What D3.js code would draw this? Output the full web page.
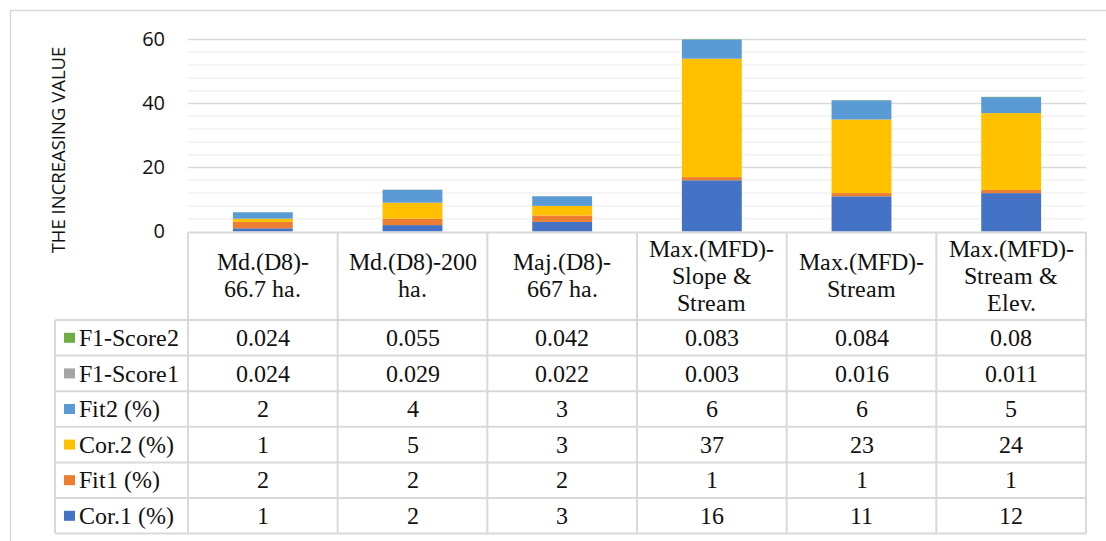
<!DOCTYPE html>
<html>
<head>
<meta charset="utf-8">
<script src="https://cdn.jsdelivr.net/npm/d3@7/dist/d3.min.js"></script>
<style>
  @font-face { font-family: "TableSerif"; src: local("Liberation Serif"), local("LiberationSerif"), local("Liberation Serif Regular"), local("Tinos"); }
  html, body { margin: 0; padding: 0; background: #fff; }
  svg { display: block; }
  .tserif { font-family: "TableSerif", "Liberation Serif", serif; }
</style>
</head>
<body>
<svg id="viz" width="1106" height="541"></svg>
<script>
// Category headers (one entry per line of the wrapped label)
const categoryLines = [
  ["Md.(D8)-", "66.7 ha."],
  ["Md.(D8)-200", "ha."],
  ["Maj.(D8)-", "667 ha."],
  ["Max.(MFD)-", "Slope &", "Stream"],
  ["Max.(MFD)-", "Stream"],
  ["Max.(MFD)-", "Stream &", "Elev."]
];

// Series values, per category
const cor1     = [1, 2, 3, 16, 11, 12];
const fit1     = [2, 2, 2, 1, 1, 1];
const cor2     = [1, 5, 3, 37, 23, 24];
const fit2     = [2, 4, 3, 6, 6, 5];
const f1Score1 = [0.024, 0.029, 0.022, 0.003, 0.016, 0.011];
const f1Score2 = [0.024, 0.055, 0.042, 0.083, 0.084, 0.08];

const seriesNames  = ["Cor.1 (%)", "Fit1 (%)", "Cor.2 (%)", "Fit2 (%)", "F1-Score1", "F1-Score2"];
const seriesColors = ["#4472C4", "#ED7D31", "#FFC000", "#5B9BD5", "#A5A5A5", "#70AD47"];
const seriesValues = [cor1, fit1, cor2, fit2, f1Score1, f1Score2];

const yTicks = [0, 20, 40, 60];
const yTitle = "THE INCREASING VALUE";

// ---- layout ----
const svg = d3.select("#viz");
const plotLeft = 188, plotRight = 1086;
const yZero = 231.5, yTop = 39.5;
const headerBottom = 320;
const rowH = 35.6;
const legendLeft = 55;
const gridCol = "#D9D9D9";
const SANS = '"Open Sans"';
const fs = "23.5px";

const keys = categoryLines.map((d, i) => i);
const rows = keys.map(i => {
  const r = { idx: i };
  seriesNames.forEach((s, j) => r[s] = seriesValues[j][i]);
  return r;
});

const x = d3.scaleBand().domain(keys).range([plotLeft, plotRight])
  .paddingInner(0.6).paddingOuter(0.3);
const y = d3.scaleLinear().domain([0, 60]).range([yZero, yTop]);
const xCell = d3.scaleBand().domain(keys).range([plotLeft, plotRight]);

// chart area frame
svg.append("path")
  .attr("d", "M10.5,541 V10.5 H1106")
  .attr("fill", "none").attr("stroke", gridCol).attr("stroke-width", 1.5);

// minor gridlines
const minor = d3.range(0, 61, 4).filter(v => v % 20 !== 0);
svg.append("g").selectAll("line").data(minor).join("line")
  .attr("x1", plotLeft).attr("x2", plotRight)
  .attr("y1", d => y(d)).attr("y2", d => y(d))
  .attr("stroke", "#F2F2F2").attr("stroke-width", 1.5);

// major gridlines
svg.append("g").selectAll("line").data(yTicks.filter(v => v > 0)).join("line")
  .attr("x1", plotLeft).attr("x2", plotRight)
  .attr("y1", d => y(d)).attr("y2", d => y(d))
  .attr("stroke", gridCol).attr("stroke-width", 1.5);

// value axis labels
svg.append("g").selectAll("text").data(yTicks).join("text")
  .attr("x", 165).attr("y", d => y(d)).attr("dy", "0.34em")
  .attr("text-anchor", "end").attr("fill", "#111")
  .style("font-family", SANS).style("font-size", "20px")
  .text(d => d);

// y axis title
svg.append("text")
  .attr("transform", `translate(65,150) rotate(-90)`)
  .attr("text-anchor", "middle")
  .style("font-family", SANS).style("font-size", "18.5px")
  .attr("fill", "#111")
  .text(yTitle);

// stacked bars
const stack = d3.stack().keys(seriesNames);
const stacked = stack(rows);
svg.append("g").selectAll("g").data(stacked).join("g")
  .attr("fill", (d, i) => seriesColors[i])
  .selectAll("rect").data(d => d).join("rect")
  .attr("x", d => x(d.data.idx))
  .attr("width", x.bandwidth())
  .attr("y", d => y(d[1]))
  .attr("height", d => y(d[0]) - y(d[1]));

// ---- data table ----
const tbl = svg.append("g").attr("fill", "none").attr("stroke", gridCol).attr("stroke-width", 2);
const tableBottom = headerBottom + rowH * seriesNames.length;
// top edge (category axis)
tbl.append("line").attr("x1", plotLeft).attr("x2", plotRight).attr("y1", yZero + 1).attr("y2", yZero + 1);
// column dividers
const colEdges = keys.map(k => xCell(k)).concat([plotRight]);
tbl.selectAll(".col").data(colEdges).join("line").attr("class", "col")
  .attr("x1", d => d).attr("x2", d => d).attr("y1", yZero + 1).attr("y2", tableBottom);
// legend column left edge
tbl.append("line").attr("x1", legendLeft).attr("x2", legendLeft).attr("y1", headerBottom).attr("y2", tableBottom);
// row lines
const rowEdges = d3.range(seriesNames.length + 1).map(i => headerBottom + i * rowH);
tbl.selectAll(".row").data(rowEdges).join("line").attr("class", "row")
  .attr("x1", legendLeft).attr("x2", plotRight).attr("y1", d => d).attr("y2", d => d);

// category headers
const lineGap = 27;
const hdrCenter = (yZero + headerBottom) / 2;
categoryLines.forEach((lines, i) => {
  const y0 = hdrCenter - (lines.length - 1) * lineGap / 2;
  lines.forEach((ln, k) => {
    svg.append("text")
      .attr("class", "tserif")
      .attr("x", xCell(i) + xCell.bandwidth() / 2)
      .attr("y", y0 + k * lineGap).attr("dy", "0.35em")
      .attr("text-anchor", "middle").attr("fill", "#111")
      .style("font-size", fs)
      .text(ln);
  });
});

// table rows: top row is the last series
const order = d3.range(seriesNames.length).reverse();
order.forEach((s, r) => {
  const cy = headerBottom + r * rowH + rowH / 2;
  svg.append("rect")
    .attr("x", 64).attr("y", cy - 5).attr("width", 11).attr("height", 10)
    .attr("fill", seriesColors[s]);
  svg.append("text")
    .attr("class", "tserif")
    .attr("x", 79).attr("y", cy).attr("dy", "0.35em").attr("fill", "#111")
    .style("font-size", fs)
    .text(seriesNames[s]);
  seriesValues[s].forEach((v, i) => {
    svg.append("text")
      .attr("class", "tserif")
      .attr("x", xCell(i) + xCell.bandwidth() / 2).attr("y", cy).attr("dy", "0.35em")
      .attr("text-anchor", "middle").attr("fill", "#111")
      .style("font-size", fs)
      .text(String(v));
  });
});
</script>
</body>
</html>
